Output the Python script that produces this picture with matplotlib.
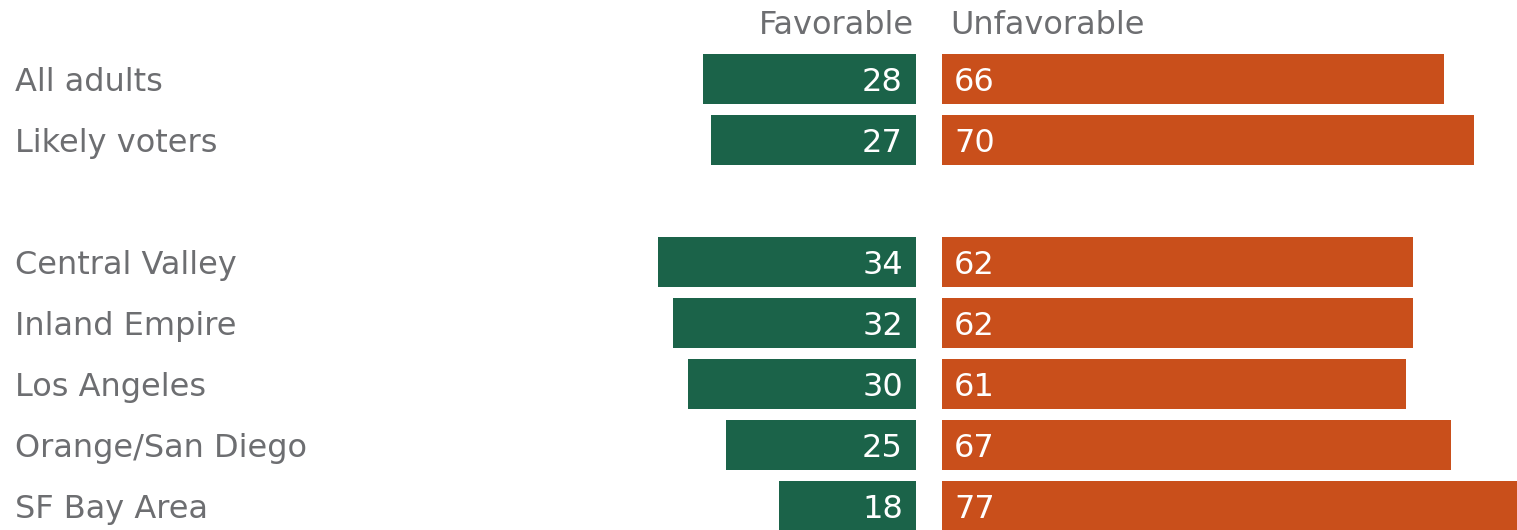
import matplotlib
matplotlib.use("Agg")
import matplotlib.pyplot as plt

categories = ["All adults", "Likely voters", "Central Valley", "Inland Empire",
              "Los Angeles", "Orange/San Diego", "SF Bay Area"]
favorable = [28, 27, 34, 32, 30, 25, 18]
unfavorable = [66, 70, 62, 62, 61, 67, 77]
rows = [0, 1, 3, 4, 5, 6, 7]
headers = ["Favorable", "Unfavorable"]

GREEN = "#1b6349"
ORANGE = "#c94f1b"
GRAY = "#6d6e71"
FONT = "DejaVu Sans"
FS = 23

W, H = 1517, 530
fig = plt.figure(figsize=(W / 100, H / 100), dpi=100)
ax = fig.add_axes([0, 0, 1, 1])

ppu = 7.6          # pixels per value unit
x0 = 916           # pixel where favorable bars end
gap = 26 / ppu     # gap between the two bars in value units
ax.set_xlim(-x0 / ppu, (W - x0) / ppu)
row_px = 61
top_px = 79
ax.set_ylim((H - top_px) / row_px, -top_px / row_px)

bh = 50 / row_px
ax.barh(rows, [-f for f in favorable], left=0, height=bh, color=GREEN)
ax.barh(rows, unfavorable, left=gap, height=bh, color=ORANGE)

for r, f, u, c in zip(rows, favorable, unfavorable, categories):
    ax.text(-13 / ppu, r, str(f), ha="right", va="center_baseline", color="white",
            fontsize=FS, family=FONT)
    ax.text(gap + 12 / ppu, r, str(u), ha="left", va="center_baseline", color="white",
            fontsize=FS, family=FONT)
    ax.text((15 - x0) / ppu, r, c, ha="left", va="center_baseline", color=GRAY,
            fontsize=FS, family=FONT)

hy = (22 - top_px) / row_px
ax.text(-2 / ppu, hy, headers[0], ha="right", va="center_baseline", color=GRAY,
        fontsize=FS, family=FONT)
ax.text(gap + 8 / ppu, hy, headers[1], ha="left", va="center_baseline", color=GRAY,
        fontsize=FS, family=FONT)

ax.axis("off")
fig.savefig("out.png", dpi=100)
